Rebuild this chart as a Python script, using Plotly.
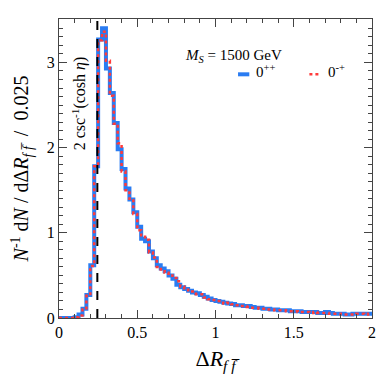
import numpy as np
import plotly.graph_objects as go

# histogram bin edges: 0 to 2 in steps of 0.025
bin_width = 0.025
edges = np.round(np.arange(0, 2.0001, bin_width), 4)

# 0++ (blue)
scalar_vals = [
    0, 0, 0, 0, 0.01, 0.04, 0.11, 0.27, 0.62, 1.78,
    3.27, 3.40, 2.93, 2.64, 2.29, 1.98, 1.75, 1.52, 1.39, 1.24,
    1.07, 0.93, 0.90, 0.78, 0.70, 0.62, 0.58, 0.55, 0.50, 0.46,
    0.39, 0.36, 0.34, 0.32, 0.30, 0.29, 0.27, 0.25, 0.23, 0.21,
    0.20, 0.19, 0.18, 0.17, 0.165, 0.15, 0.15, 0.14, 0.14, 0.13,
    0.12, 0.12, 0.11, 0.11, 0.10, 0.10, 0.09, 0.09, 0.09, 0.08,
    0.08, 0.08, 0.07, 0.07, 0.07, 0.07, 0.06, 0.06, 0.07, 0.06,
    0.05, 0.05, 0.05, 0.04, 0.04, 0.05, 0.05, 0.05, 0.05, 0.05,
]

# 0-+ (red dotted)
pseudo_vals = [
    0, 0, 0, 0, 0.01, 0.03, 0.10, 0.26, 0.61, 1.78,
    3.26, 3.36, 3.02, 2.61, 2.28, 2.05, 1.72, 1.50, 1.40, 1.22,
    1.03, 0.97, 0.92, 0.77, 0.71, 0.60, 0.57, 0.53, 0.50, 0.47,
    0.43, 0.37, 0.35, 0.31, 0.31, 0.28, 0.28, 0.24, 0.22, 0.21,
    0.20, 0.18, 0.17, 0.18, 0.16, 0.15, 0.14, 0.14, 0.13, 0.12,
    0.12, 0.11, 0.11, 0.10, 0.10, 0.09, 0.09, 0.09, 0.08, 0.08,
    0.08, 0.07, 0.07, 0.07, 0.06, 0.07, 0.06, 0.06, 0.06, 0.05,
    0.05, 0.05, 0.04, 0.04, 0.04, 0.04, 0.05, 0.05, 0.04, 0.05,
]

csc_line = 0.245  # 2 csc^-1(cosh eta)

blue = "#2a7cf2"
red = "#ff3b3b"
serif = "Liberation Serif, Times New Roman, serif"


def step_y(vals):
    # repeat last value so the final bin gets drawn to the right edge
    return list(vals) + [vals[-1]]


fig = go.Figure()
fig.add_trace(go.Scatter(x=edges, y=step_y(scalar_vals), mode="lines",
                         line=dict(color=blue, width=4, shape="hv"),
                         showlegend=False))
fig.add_trace(go.Scatter(x=edges, y=step_y(pseudo_vals), mode="lines",
                         line=dict(color=red, width=2.5, shape="hv", dash="dot"),
                         showlegend=False))

# vertical dashed reference line
fig.add_shape(type="line", x0=csc_line, x1=csc_line, y0=0, y1=1,
              xref="x", yref="paper",
              line=dict(color="black", width=2, dash="dash"))

fig.add_annotation(x=0.128, y=2.52, xref="x", yref="y", text="2 csc<sup>-1</sup>(cosh <i>η</i>)",
                   textangle=-90, showarrow=False, font=dict(family=serif, size=16, color="black"))

fig.add_annotation(x=0.72, y=0.913, xref="paper", yref="paper",
                   text="<i>M</i><sub><i>S</i></sub> = 1500 GeV",
                   showarrow=False, font=dict(family=serif, size=15, color="black"))

# hand-made legend
leg_y = 0.815
fig.add_shape(type="line", x0=0.572, x1=0.608, y0=leg_y, y1=leg_y, xref="paper", yref="paper",
              line=dict(color=blue, width=4))
fig.add_annotation(x=0.622, y=leg_y, xref="paper", yref="paper", text="0<sup>++</sup>",
                   xanchor="left", yanchor="middle", yshift=3, showarrow=False,
                   font=dict(family=serif, size=15, color="black"))
fig.add_shape(type="line", x0=0.80, x1=0.832, y0=leg_y, y1=leg_y, xref="paper", yref="paper",
              line=dict(color=red, width=2.5, dash="dot"))
fig.add_annotation(x=0.852, y=leg_y, xref="paper", yref="paper", text="0<sup>-+</sup>",
                   xanchor="left", yanchor="middle", yshift=3, showarrow=False,
                   font=dict(family=serif, size=15, color="black"))

axis_common = dict(showline=True, linecolor="#444", linewidth=1.2, mirror="allticks",
                   ticks="inside", ticklen=8, tickcolor="#444", showgrid=False, zeroline=False,
                   automargin=False, tickfont=dict(family=serif, size=16, color="black"))

fig.update_xaxes(range=[0, 2], tickvals=[0, 0.5, 1, 1.5, 2], ticktext=["0", "0.5", "1", "1.5", "2"],
                 minor=dict(dtick=0.1, ticklen=4, ticks="inside", tickcolor="#444"),
                 title=dict(text="Δ<i>R</i><sub><i>f f̅</i></sub>", font=dict(family=serif, size=22, color="black"),
                            standoff=10),
                 **axis_common)
fig.update_yaxes(range=[0, 3.51], tickvals=[0, 1, 2, 3],
                 minor=dict(dtick=0.1, ticklen=4, ticks="inside", tickcolor="#444"),
                 title=dict(text="<i>N</i><sup>-1</sup> d<i>N</i> / dΔ<i>R</i><sub><i>f f̅</i></sub>  /  0.025",
                            font=dict(family=serif, size=20, color="black"), standoff=12),
                 **axis_common)

# page body has an 8px margin, so the figure is shrunk and shifted to match
fig.update_layout(width=384, height=366, margin=dict(l=51, r=20, t=11, b=56),
                  plot_bgcolor="white", paper_bgcolor="white", showlegend=False)

fig.write_html("out.html")
